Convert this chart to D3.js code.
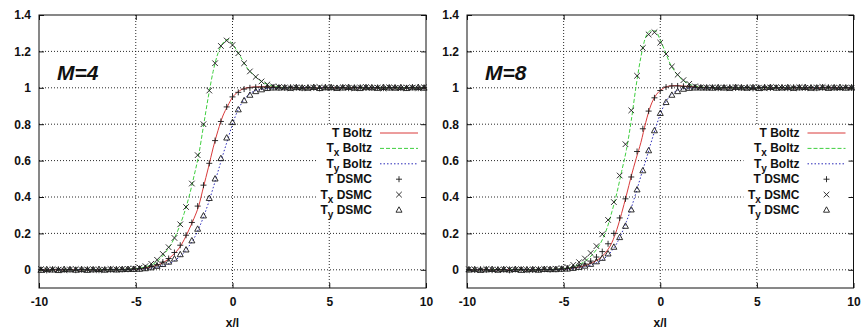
<!DOCTYPE html>
<html>
<head>
<meta charset="utf-8">
<script src="https://cdn.jsdelivr.net/npm/d3@7"></script>
<style>
  body { margin: 0; background: #fff; }
  text { font-family: "Liberation Sans", Arial, sans-serif; }
</style>
</head>
<body>
<svg id="chart"></svg>
<script>
// ---- data ----
const xTicks = [-10, -5, 0, 5, 10];
const xTickLabels = ['-10', '-5', '0', '5', '10'];
const yTicks = [0, 0.2, 0.4, 0.6, 0.8, 1.0, 1.2, 1.4];
const yTickLabels = ['0', '0.2', '0.4', '0.6', '0.8', '1', '1.2', '1.4'];
const panelTitles = ['M=4', 'M=8'];
const legendNames = [['T', '', ' Boltz'], ['T', 'x', ' Boltz'], ['T', 'y', ' Boltz'],
                     ['T', '', ' DSMC'], ['T', 'x', ' DSMC'], ['T', 'y', ' DSMC']];

// x positions of the Boltzmann solution curves
const boltzX = [-10, -7, -6, -5, -4.5, -4, -3.5, -3, -2.75, -2.5, -2.25, -2, -1.75, -1.5, -1.25, -1,
  -0.75, -0.5, -0.25, 0, 0.25, 0.5, 0.75, 1, 1.5, 2, 2.5, 3, 4, 5, 10];

// x positions of the DSMC samples
const dsmcX = [-9.9, -9.6, -9.3, -9.0, -8.7, -8.4, -8.1, -7.8, -7.5, -7.2, -6.9, -6.6, -6.3, -6.0, -5.7, -5.4, -5.1,
  -4.8, -4.5, -4.2, -3.9, -3.6, -3.3, -3.0, -2.7, -2.4, -2.1, -1.8, -1.5, -1.2, -0.9, -0.6, -0.3, 0, 0.3, 0.6, 0.9,
  1.2, 1.5, 1.8, 2.1, 2.4, 2.7, 3.0, 3.3, 3.6, 3.9, 4.2, 4.5, 4.8, 5.1, 5.4, 5.7, 6.0, 6.3, 6.6, 6.9, 7.2, 7.5,
  7.8, 8.1, 8.4, 8.7, 9.0, 9.3, 9.6, 9.9];

// M=4
const m4TBoltz = [0, 0, 0.001, 0.004, 0.01, 0.022, 0.045, 0.09, 0.12, 0.165, 0.22, 0.28, 0.35, 0.455, 0.56, 0.67,
  0.765, 0.845, 0.9, 0.948, 0.975, 0.992, 1.0, 1.004, 1.006, 1.004, 1.002, 1.0, 1.0, 1.0, 1.0];
const m4TxBoltz = [0, 0, 0.001, 0.006, 0.016, 0.038, 0.09, 0.175, 0.235, 0.31, 0.4, 0.51, 0.63, 0.79, 0.95, 1.09,
  1.19, 1.245, 1.265, 1.24, 1.2, 1.155, 1.11, 1.08, 1.035, 1.012, 1.003, 1.0, 1.0, 1.0, 1.0];
const m4TyBoltz = [0, 0, 0.001, 0.003, 0.006, 0.012, 0.025, 0.05, 0.07, 0.095, 0.13, 0.17, 0.225, 0.29, 0.365, 0.45,
  0.54, 0.63, 0.715, 0.8, 0.87, 0.92, 0.955, 0.975, 0.992, 0.998, 1.0, 1.0, 1.0, 1.0, 1.0];

const m4TDsmc = [0.001, -0.003, 0.002, 0.003, -0.001, 0.002, -0.002, 0.001, 0.003, 0.0, -0.002, 0.002, 0.001, 0.003, 0.002, 0.003, 0.005,
  0.006, 0.01, 0.018, 0.028, 0.042, 0.062, 0.095, 0.135, 0.19, 0.26, 0.35, 0.465, 0.585, 0.71, 0.815, 0.895, 0.95,
  0.975, 0.993, 1.0, 1.003, 1.004, 1.003, 1.002, 1.0,
  0.999, 1.003, 1.001, 0.998, 1.002, 1.0, 0.997, 1.003, 1.001, 0.999, 1.002, 0.998, 1.001, 1.003, 0.999, 1.0,
  1.002, 0.998, 1.001, 1.003, 0.999, 1.0, 1.002, 0.998, 1.001];
const m4TxDsmc = [0.004, -0.002, 0.003, 0.001, -0.003, 0.002, 0.004, -0.001, 0.002, 0.003, -0.002, 0.001, 0.004, 0.002, 0.003, 0.005, 0.008,
  0.012, 0.02, 0.033, 0.055, 0.087, 0.124, 0.175, 0.25, 0.345, 0.474, 0.63, 0.8, 0.985, 1.135, 1.23, 1.26, 1.235,
  1.19, 1.135, 1.09, 1.06, 1.035, 1.018, 1.008, 1.004,
  1.002, 0.998, 1.003, 1.0, 0.997, 1.002, 1.004, 0.999, 1.001, 0.997, 1.003, 1.0, 0.998, 1.002, 1.004, 0.999,
  1.001, 0.996, 1.003, 1.0, 0.998, 1.002, 1.001, 0.997, 1.003];
const m4TyDsmc = [-0.002, 0.002, 0.0, -0.003, 0.003, 0.001, -0.001, 0.002, -0.002, 0.001, 0.003, -0.001, 0.002, 0.0, 0.002, 0.003, 0.003,
  0.004, 0.007, 0.012, 0.02, 0.03, 0.043, 0.06, 0.084, 0.11, 0.16, 0.224, 0.297, 0.393, 0.5, 0.612, 0.725, 0.81,
  0.88, 0.93, 0.96, 0.98, 0.99, 0.997, 1.0, 1.0,
  1.001, 0.998, 1.002, 1.0, 0.999, 1.003, 0.997, 1.001, 1.002, 0.998, 1.0, 1.003, 0.999, 0.997, 1.002, 1.001,
  0.998, 1.003, 1.0, 0.999, 1.002, 0.997, 1.001, 1.003, 0.999];

// M=8
const m8TBoltz = [0, 0, 0.001, 0.004, 0.01, 0.02, 0.04, 0.075, 0.105, 0.15, 0.22, 0.31, 0.41, 0.515, 0.61, 0.7,
  0.81, 0.9, 0.955, 0.985, 1.003, 1.01, 1.012, 1.011, 1.007, 1.003, 1.001, 1.0, 1.0, 1.0, 1.0];
const m8TxBoltz = [0, 0, 0.001, 0.006, 0.016, 0.04, 0.085, 0.165, 0.23, 0.32, 0.42, 0.54, 0.66, 0.82, 1.01, 1.17,
  1.28, 1.313, 1.312, 1.262, 1.2, 1.135, 1.09, 1.058, 1.02, 1.006, 1.001, 1.0, 1.0, 1.0, 1.0];
const m8TyBoltz = [0, 0, 0.001, 0.003, 0.007, 0.015, 0.03, 0.055, 0.075, 0.105, 0.145, 0.2, 0.265, 0.34, 0.425, 0.515,
  0.6, 0.69, 0.775, 0.855, 0.915, 0.955, 0.978, 0.99, 0.998, 1.0, 1.0, 1.0, 1.0, 1.0, 1.0];

const m8TDsmc = [0.002, -0.001, 0.003, 0.0, -0.002, 0.002, 0.001, -0.003, 0.002, 0.003, 0.0, -0.001, 0.002, 0.003, 0.001, 0.003, 0.005,
  0.008, 0.013, 0.022, 0.032, 0.048, 0.07, 0.1, 0.143, 0.2, 0.285, 0.39, 0.51, 0.65, 0.775, 0.872, 0.945, 0.985,
  1.004, 1.01, 1.01, 1.008, 1.005, 1.003, 1.001, 1.0,
  1.002, 0.998, 1.001, 1.003, 0.999, 1.0, 1.002, 0.997, 1.001, 1.003, 0.999, 1.0, 1.002, 0.998, 1.003, 1.001,
  0.999, 1.002, 0.998, 1.001, 1.003, 1.0, 0.999, 1.002, 1.0];
const m8TxDsmc = [0.003, 0.001, -0.002, 0.004, 0.002, -0.001, 0.003, 0.002, 0.0, 0.004, -0.002, 0.003, 0.001, 0.004, 0.003, 0.006, 0.009,
  0.015, 0.027, 0.042, 0.062, 0.092, 0.13, 0.195, 0.274, 0.372, 0.518, 0.69, 0.876, 1.066, 1.219, 1.293, 1.305, 1.248,
  1.186, 1.117, 1.072, 1.042, 1.022, 1.008, 1.003, 1.0,
  1.003, 0.999, 1.002, 0.997, 1.004, 1.0, 0.998, 1.003, 1.001, 0.997, 1.002, 1.004, 0.999, 1.001, 0.998, 1.003,
  1.0, 0.997, 1.002, 1.004, 0.999, 1.001, 0.998, 1.002, 1.0];
const m8TyDsmc = [0.0, 0.002, -0.002, 0.001, 0.003, -0.001, 0.002, 0.0, 0.003, -0.002, 0.001, 0.002, -0.001, 0.003, 0.002, 0.002, 0.004,
  0.005, 0.009, 0.014, 0.021, 0.031, 0.045, 0.064, 0.088, 0.125, 0.178, 0.24, 0.33, 0.44, 0.545, 0.655, 0.765, 0.86,
  0.92, 0.96, 0.98, 0.993, 0.998, 1.0, 1.0, 1.0,
  0.999, 1.002, 1.0, 0.998, 1.003, 1.001, 0.999, 1.002, 0.997, 1.001, 1.003, 0.999, 1.0, 1.002, 0.998, 1.001,
  1.003, 0.999, 1.0, 1.002, 0.998, 1.001, 1.003, 0.999, 1.001];

const panels = [
  { title: panelTitles[0], boltz: [m4TBoltz, m4TxBoltz, m4TyBoltz], dsmc: [m4TDsmc, m4TxDsmc, m4TyDsmc] },
  { title: panelTitles[1], boltz: [m8TBoltz, m8TxBoltz, m8TyBoltz], dsmc: [m8TDsmc, m8TxDsmc, m8TyDsmc] },
];

// ---- layout / style ----
const width = 862;
const height = 330;
const plotTop = 15;
const plotBottom = 288;
const panelRanges = [[39, 426], [467, 853.5]];
const lineColors = ['#d93a3a', '#3fcf3f', '#2a2ab8'];
const lineDash = [null, '4,2', '1.5,2'];
const markerPaths = ['M-3,0H3M0,-3V3', 'M-2.8,-2.8L2.8,2.8M-2.8,2.8L2.8,-2.8', 'M0,-3.2L3,2.2L-3,2.2Z'];

const svg = d3.select('#chart')
  .attr('width', width)
  .attr('height', height)
  .attr('viewBox', [0, 0, width, height]);

svg.append('rect').attr('width', width).attr('height', height).attr('fill', '#fff');

const y = d3.scaleLinear().domain([-0.1, 1.4]).range([plotBottom, plotTop]);

panels.forEach((panel, pi) => {
  const [left, right] = panelRanges[pi];
  const x = d3.scaleLinear().domain([-10, 10]).range([left, right]);
  const g = svg.append('g');

  // dotted grid
  g.append('g')
    .selectAll('line')
    .data(xTicks.filter((d) => d > -10 && d < 10))
    .join('line')
    .attr('x1', (d) => x(d)).attr('x2', (d) => x(d))
    .attr('y1', plotTop).attr('y2', plotBottom)
    .attr('stroke', '#111').attr('stroke-width', 0.9).attr('stroke-dasharray', '1,2');
  g.append('g')
    .selectAll('line')
    .data(yTicks.filter((d) => d < 1.4))
    .join('line')
    .attr('x1', left).attr('x2', right)
    .attr('y1', (d) => y(d)).attr('y2', (d) => y(d))
    .attr('stroke', '#111').attr('stroke-width', 0.9).attr('stroke-dasharray', '1,2');

  // legend background hides grid
  g.append('rect')
    .attr('x', right - 110).attr('y', 126)
    .attr('width', 108).attr('height', 92)
    .attr('fill', '#fff');

  // axes with inward ticks (mirrored)
  const axisB = g.append('g').attr('transform', `translate(0,${plotBottom})`)
    .call(d3.axisBottom(x).tickValues(xTicks).tickSize(-5).tickPadding(9)
      .tickFormat((d, i) => xTickLabels[i]).tickSizeOuter(0));
  const axisT = g.append('g').attr('transform', `translate(0,${plotTop})`)
    .call(d3.axisTop(x).tickValues(xTicks).tickSize(-5).tickFormat('').tickSizeOuter(0));
  const axisL = g.append('g').attr('transform', `translate(${left},0)`)
    .call(d3.axisLeft(y).tickValues(yTicks).tickSize(-5).tickPadding(8)
      .tickFormat((d, i) => yTickLabels[i]).tickSizeOuter(0));
  const axisR = g.append('g').attr('transform', `translate(${right},0)`)
    .call(d3.axisRight(y).tickValues(yTicks).tickSize(-5).tickFormat('').tickSizeOuter(0));

  [axisB, axisT, axisL, axisR].forEach((a) => {
    a.select('.domain').remove();
    a.selectAll('.tick line').attr('stroke', '#111');
    a.selectAll('.tick text')
      .attr('fill', '#111')
      .attr('font-size', 12)
      .attr('font-weight', 'bold')
      .attr('font-family', '"Liberation Sans", Arial, sans-serif');
  });

  g.append('rect')
    .attr('x', left).attr('y', plotTop)
    .attr('width', right - left).attr('height', plotBottom - plotTop)
    .attr('fill', 'none').attr('stroke', '#111').attr('stroke-width', 1);

  // Boltzmann curves
  const line = d3.line()
    .x((d) => x(d[0]))
    .y((d) => y(d[1]))
    .curve(d3.curveMonotoneX);

  panel.boltz.forEach((vals, si) => {
    g.append('path')
      .datum(boltzX.map((xv, i) => [xv, vals[i]]))
      .attr('d', line)
      .attr('fill', 'none')
      .attr('stroke', lineColors[si])
      .attr('stroke-width', 1)
      .attr('stroke-dasharray', lineDash[si]);
  });

  // DSMC markers
  panel.dsmc.forEach((vals, si) => {
    g.append('g')
      .selectAll('path')
      .data(dsmcX.map((xv, i) => [xv, vals[i]]))
      .join('path')
      .attr('transform', (d) => `translate(${x(d[0])},${y(d[1])})`)
      .attr('d', markerPaths[si])
      .attr('fill', 'none')
      .attr('stroke', '#1a1a1a')
      .attr('stroke-width', 0.9);
  });

  // legend
  const legendRight = right - 54;
  legendNames.forEach((parts, i) => {
    const cy = 133 + i * 15.4;
    const t = g.append('text')
      .attr('x', legendRight).attr('y', cy + 4)
      .attr('text-anchor', 'end')
      .attr('font-size', 12)
      .attr('font-weight', 'bold')
      .attr('fill', '#111');
    t.append('tspan').text(parts[0]);
    if (parts[1]) {
      t.append('tspan').attr('dy', 4).attr('font-size', 10).text(parts[1]);
      t.append('tspan').attr('dy', -4).text(parts[2]);
    } else {
      t.append('tspan').text(parts[2]);
    }
    if (i < 3) {
      g.append('line')
        .attr('x1', right - 46).attr('x2', right - 8)
        .attr('y1', cy).attr('y2', cy)
        .attr('stroke', lineColors[i])
        .attr('stroke-width', 1)
        .attr('stroke-dasharray', lineDash[i]);
    } else {
      g.append('path')
        .attr('transform', `translate(${right - 27},${cy})`)
        .attr('d', markerPaths[i - 3])
        .attr('fill', 'none')
        .attr('stroke', '#1a1a1a')
        .attr('stroke-width', 0.9);
    }
  });

  // panel title
  g.append('text')
    .attr('x', left + 18).attr('y', 80)
    .attr('font-size', 21)
    .attr('font-weight', 'bold')
    .attr('font-style', 'italic')
    .attr('fill', '#111')
    .text(panel.title);

  // x label
  g.append('text')
    .attr('x', x(0)).attr('y', 327)
    .attr('text-anchor', 'middle')
    .attr('font-size', 12)
    .attr('font-weight', 'bold')
    .attr('fill', '#111')
    .text('x/l');
});
</script>
</body>
</html>
